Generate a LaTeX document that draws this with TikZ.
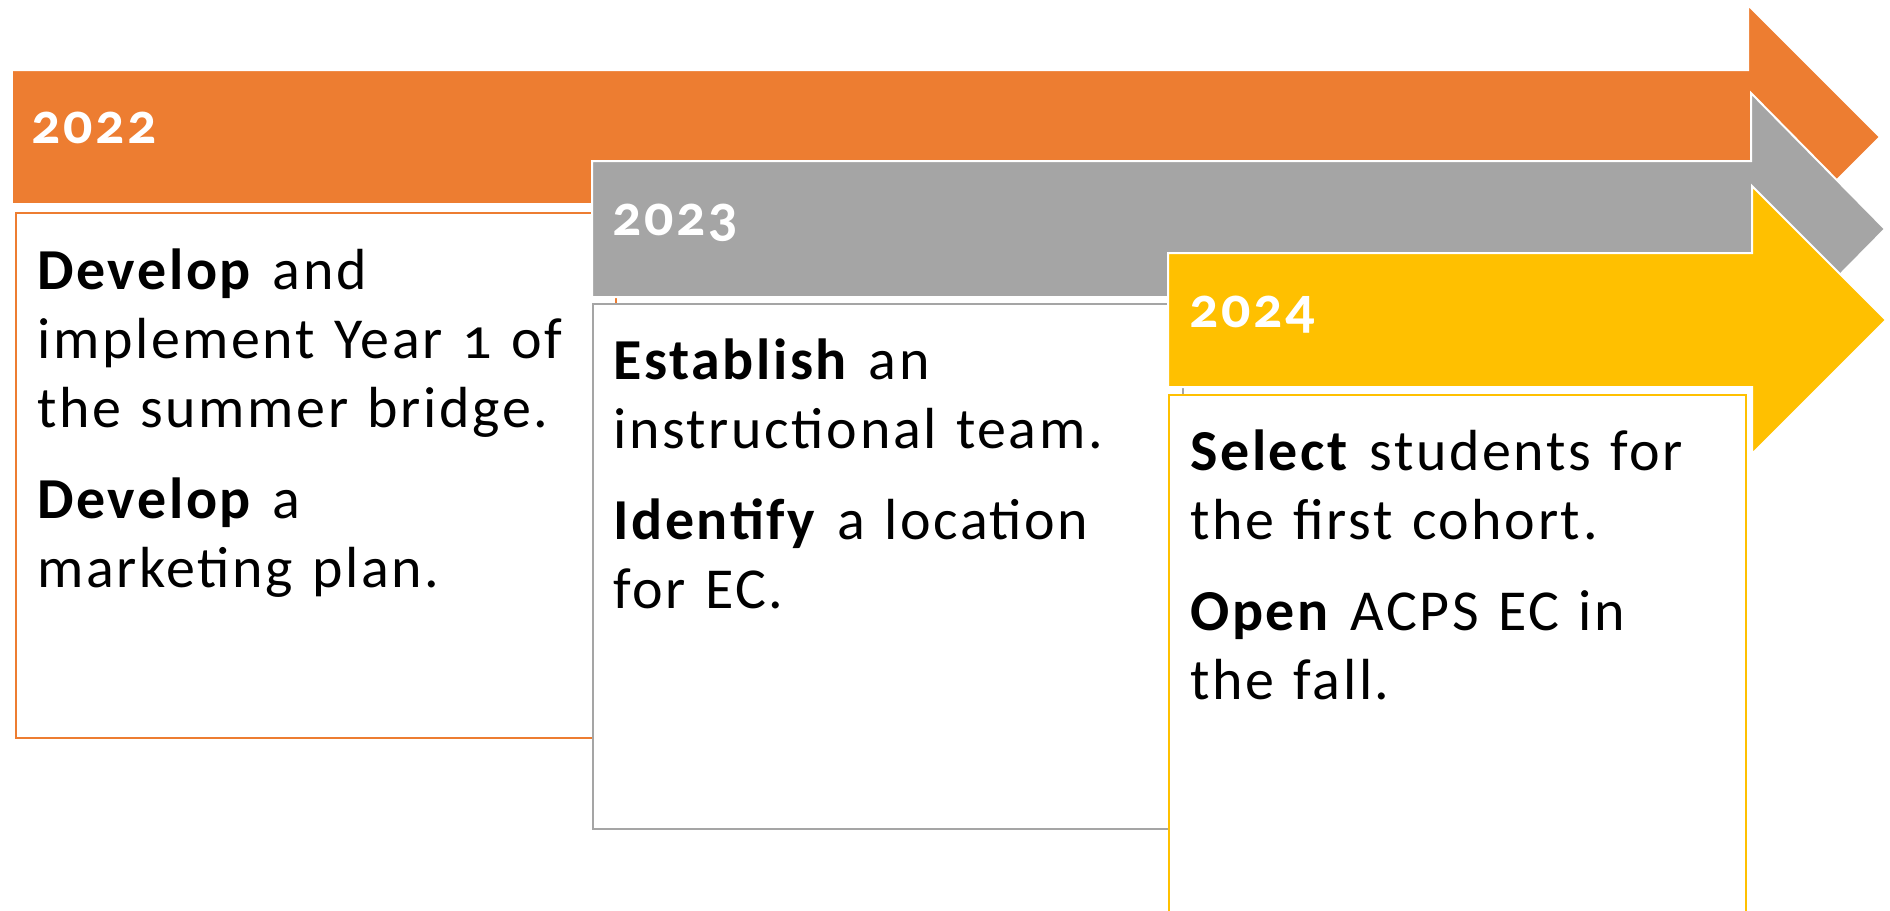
\documentclass[tikz,border=0pt]{standalone}
\usepackage{fontspec}
\setmainfont{Carlito}[Numbers=OldStyle,LetterSpace=4.5]
\usepackage{tikz}
\definecolor{acorange}{HTML}{ED7D31}
\definecolor{acgray}{HTML}{A5A5A5}
\definecolor{acyellow}{HTML}{FFC000}
\tikzstyle{band}=[draw=white,line width=0.04cm]
\tikzstyle{plan}=[rectangle,draw,fill=white,line width=0.04cm,anchor=north west,minimum height=10.5cm,inner sep=0pt]
\tikzstyle{year}=[anchor=base west,inner sep=0pt,text=white,font=\fontsize{33}{39.3}\selectfont\bfseries]
\tikzstyle{goals}=[anchor=base west,inner sep=0pt,align=left,text width=10.8cm,font=\fontsize{33}{39.3}\selectfont]

\begin{document}
\begin{tikzpicture}[x=0.02cm,y=-0.02cm]
      \useasboundingbox (0,0) rectangle (1890,910);
      \clip (0,0) rectangle (1890,910);
      % 2022
      \draw[band,fill=acorange] (12,70) -- (1748,70) -- (1748,5) -- (1880,137) -- (1748,269) -- (1748,204) -- (12,204) -- cycle;
      \node[plan,draw=acorange,minimum width=12cm] (box22) at (15,212) {};
      \node[year] (y22) at (31,143) {2022};
      \node[goals] (t22) at (37,289) {\textbf{Develop} and\\implement Year 1 of\\the summer bridge.\\[12.5pt]\textbf{Develop} a\\marketing plan.};
      % 2023
      \draw[band,fill=acgray] (592,161) -- (1751,161) -- (1751,93) -- (1885,229) -- (1751,365) -- (1751,297) -- (592,297) -- cycle;
      \node[plan,draw=acgray,minimum width=11.8cm] (box23) at (592,303) {};
      \node[year] (y23) at (612,235) {2023};
      \node[goals] (t23) at (613,379) {\textbf{Establish} an\\instructional team.\\[12.5pt]\textbf{Identify} a location\\for EC.};
      % 2024
      \draw[band,fill=acyellow] (1168,253) -- (1752,253) -- (1752,186) -- (1886,320) -- (1752,454) -- (1752,387) -- (1168,387) -- cycle;
      \node[plan,draw=acyellow,minimum width=11.54cm,minimum height=11cm] (box24) at (1168,394) {};
      \node[year] (y24) at (1189,327) {2024};
      \node[goals] (t24) at (1190,470) {\textbf{Select} students for\\the first cohort.\\[12.5pt]\textbf{Open} ACPS EC in\\the fall.};
\end{tikzpicture}
\end{document}
